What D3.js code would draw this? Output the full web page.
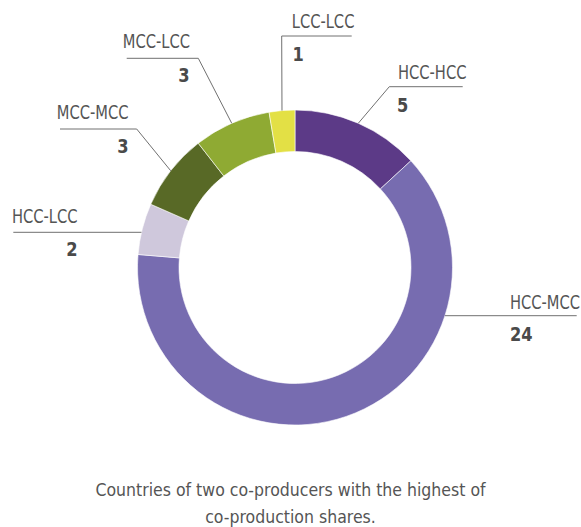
<!DOCTYPE html>
<html>
<head>
<meta charset="utf-8">
<script src="https://cdn.jsdelivr.net/npm/d3@7"></script>
<style>
  html, body { margin: 0; padding: 0; background: #fff; }
  svg { display: block; }
</style>
</head>
<body>
<svg id="chart" width="581" height="527"></svg>
<script>
// ---- data ----
const categories = ["HCC-HCC", "HCC-MCC", "HCC-LCC", "MCC-MCC", "MCC-LCC", "LCC-LCC"];
const values = [5, 24, 2, 3, 3, 1];
const colors = ["#5c3a87", "#776cb0", "#cfc8dc", "#586926", "#8faa33", "#e3e045"];
const titleLines = ["Countries of two co-producers with the highest of", "co-production shares."];

// ---- layout (positions only) ----
const cx = 295, cy = 267.5, outerR = 157.5, innerR = 116;
const labelFont = "'DejaVu Sans Condensed', 'DejaVu Sans', sans-serif";
const labelSquash = 0.86;
const layout = {
  "HCC-HCC": { lineY: 86.7, outerX: 462.7, elbowX: 389.3, anchor: "start", tx: 398, ty: 79.3, nx: 397, ny: 111.7 },
  "HCC-MCC": { lineY: 315.7, outerX: 576.7, elbowX: null, side: 1, anchor: "start", tx: 510, ty: 309.3, nx: 510, ny: 341 },
  "HCC-LCC": { lineY: 232.3, outerX: 13.3, elbowX: null, side: -1, anchor: "end", tx: 77.5, ty: 222.7, nx: 77.5, ny: 256 },
  "MCC-MCC": { lineY: 129, outerX: 60, elbowX: 136.7, anchor: "end", tx: 128.5, ty: 119.3, nx: 128.5, ny: 152.7 },
  "MCC-LCC": { lineY: 58.3, outerX: 126.7, elbowX: 198.3, anchor: "end", tx: 190, ty: 48.3, nx: 189.5, ny: 81.7 },
  "LCC-LCC": { lineY: 36, outerX: 351.7, elbowX: 281.7, anchor: "start", tx: 291.7, ty: 28, nx: 292.5, ny: 61 }
};

const svg = d3.select("#chart");
const data = categories.map((c, i) => ({ name: c, value: values[i], color: colors[i] }));

const pie = d3.pie().value(d => d.value).sort(null).startAngle(0).endAngle(2 * Math.PI);
const arcs = pie(data);
const arc = d3.arc().innerRadius(innerR).outerRadius(outerR);

const g = svg.append("g").attr("transform", `translate(${cx},${cy})`);
g.selectAll("path.slice")
  .data(arcs)
  .join("path")
  .attr("class", "slice")
  .attr("d", arc)
  .attr("fill", d => d.data.color)
  .attr("stroke", "#ffffff")
  .attr("stroke-width", 0.6);

// leader lines + labels
const lg = svg.append("g");
arcs.forEach(a => {
  const L = layout[a.data.name];
  let pts;
  if (L.elbowX === null) {
    const dy = L.lineY - cy;
    const ex = cx + L.side * Math.sqrt(outerR * outerR - dy * dy);
    pts = [[L.outerX, L.lineY], [ex, L.lineY]];
  } else {
    const mid = (a.startAngle + a.endAngle) / 2;
    const ex = cx + outerR * Math.sin(mid);
    const ey = cy - outerR * Math.cos(mid);
    pts = [[L.outerX, L.lineY], [L.elbowX, L.lineY], [ex, ey]];
  }
  lg.append("path")
    .attr("d", d3.line()(pts))
    .attr("fill", "none")
    .attr("stroke", "#707070")
    .attr("stroke-width", 1);
  lg.append("text")
    .attr("transform", `translate(${L.tx},${L.ty}) scale(${labelSquash},1)`)
    .attr("text-anchor", L.anchor)
    .attr("font-family", labelFont)
    .attr("font-size", 19)
    .attr("fill", "#555555")
    .text(a.data.name);
  lg.append("text")
    .attr("transform", `translate(${L.nx},${L.ny}) scale(0.95,1)`)
    .attr("text-anchor", L.anchor)
    .attr("font-family", labelFont)
    .attr("font-size", 19)
    .attr("font-weight", "bold")
    .attr("fill", "#4a4a4a")
    .text(a.data.value);
});

// caption
svg.append("g").selectAll("text")
  .data(titleLines)
  .join("text")
  .attr("x", 290.5)
  .attr("y", (d, i) => 496 + i * 26.5)
  .attr("text-anchor", "middle")
  .attr("font-family", labelFont)
  .attr("font-size", 17.5)
  .attr("fill", "#555555")
  .text(d => d);
</script>
</body>
</html>
